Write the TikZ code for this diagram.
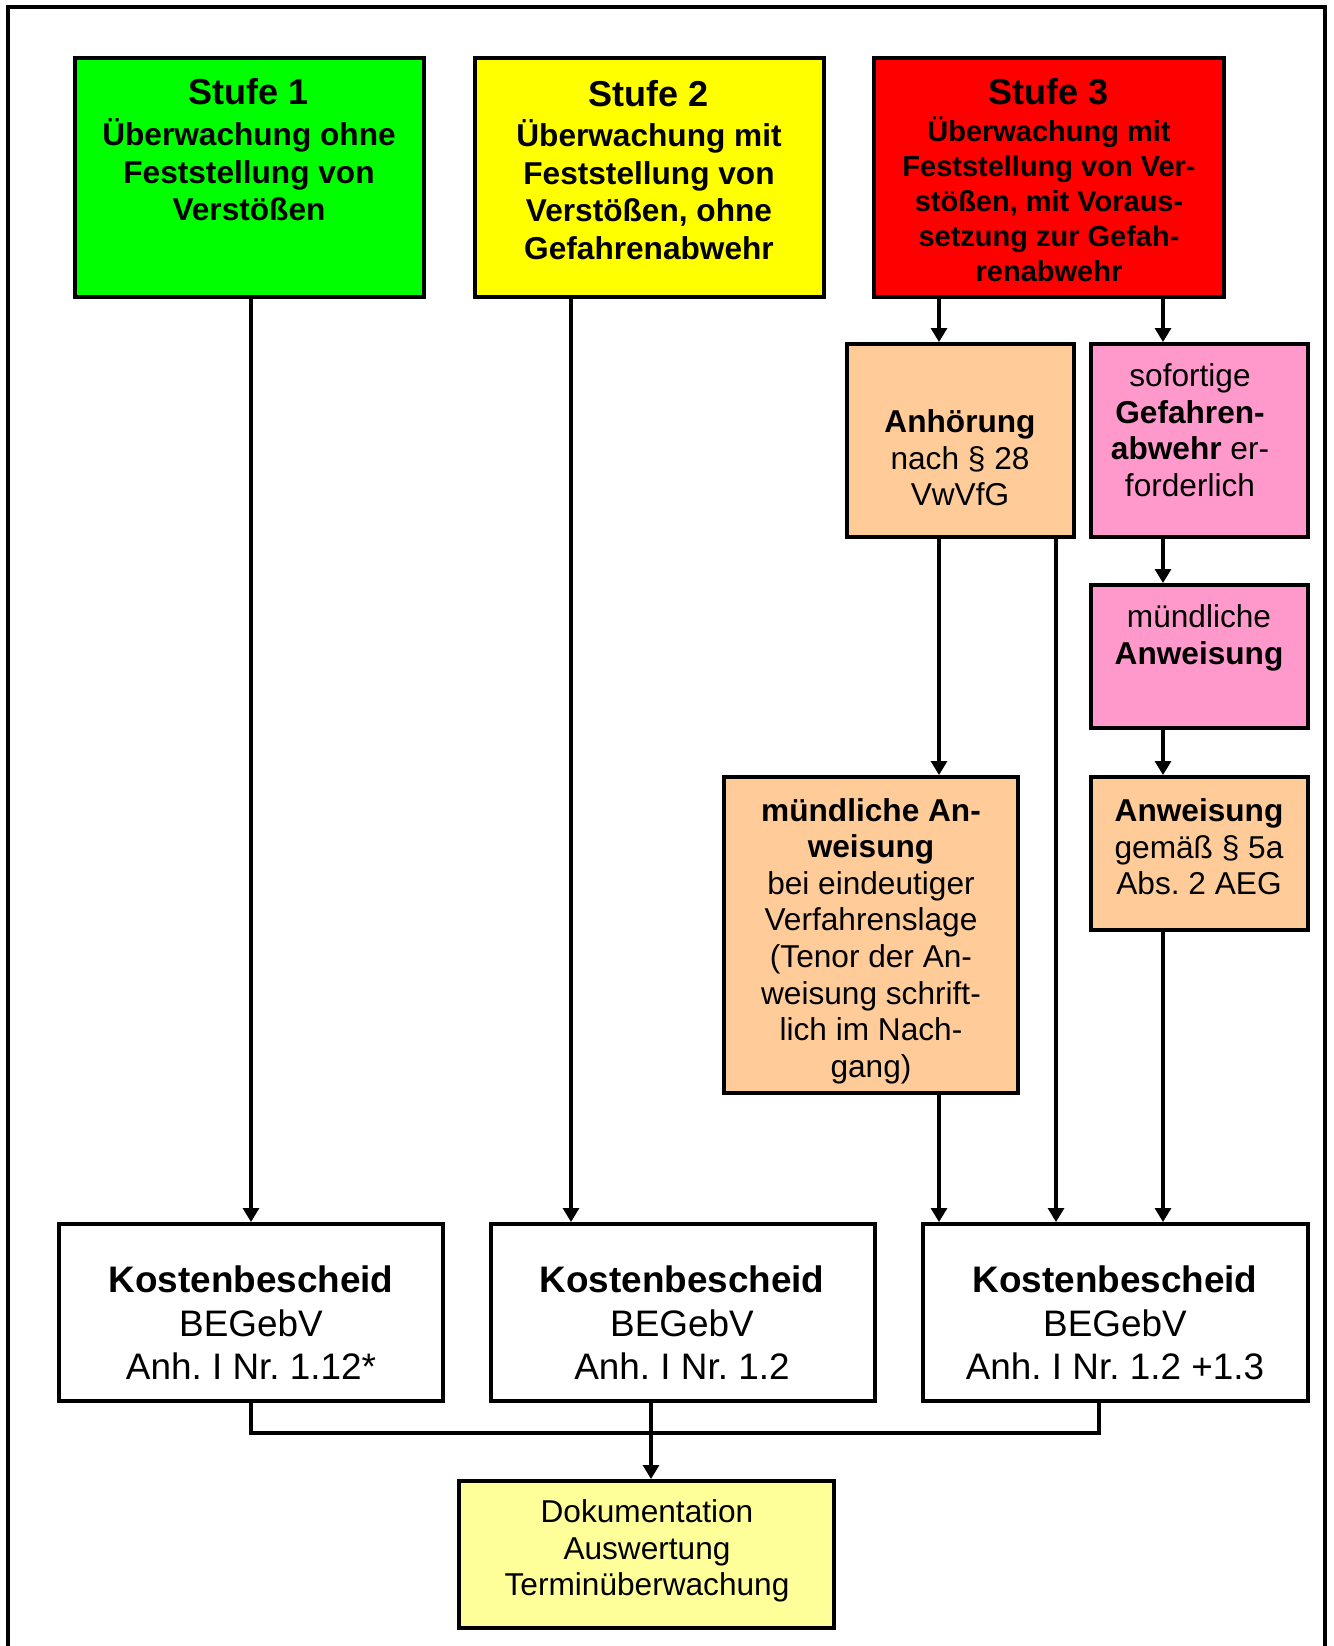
\documentclass[tikz,border=0pt]{standalone}
\usepackage{fontspec}
\setmainfont{Liberation Sans}
\usetikzlibrary{arrows.meta, positioning}
\frenchspacing
\definecolor{stufegreen}{HTML}{00FF00}
\definecolor{stufeyellow}{HTML}{FFFF00}
\definecolor{stufered}{HTML}{FF0000}
\definecolor{peach}{HTML}{FFCC99}
\definecolor{pinkish}{HTML}{FF99CC}
\definecolor{paleyellow}{HTML}{FFFF99}
\tikzset{
    cell/.style={
        rectangle, draw=black, line width=2.2pt, inner sep=0pt
    },
    stufebox/.style={cell, minimum width=6.98cm, minimum height=4.78cm},
    smallbox/.style={cell, minimum width=4.34cm},
    costbox/.style={cell, fill=white, minimum width=7.68cm, minimum height=3.54cm},
    txt/.style={align=center, inner sep=0pt, font=\fontsize{18}{20.8}\selectfont},
    stufetxt/.style={align=center, inner sep=0pt, font=\bfseries\fontsize{18}{21.5}\selectfont},
    costtxt/.style={align=center, inner sep=0pt, font=\fontsize{21}{24.7}\selectfont},
    wire/.style={draw=black, line width=2.2pt, -{Triangle[length=8pt, width=9pt]}},
    link/.style={draw=black, line width=1.8pt}
}
\newcommand{\stufetitle}[1]{{\fontsize{20.5}{24}\selectfont #1}}

\begin{document}
\begin{tikzpicture}[x=0.02cm, y=-0.02cm]
\useasboundingbox (0,0) rectangle (1333,1646);

% Frame (open at the bottom)
\draw[line width=2.3pt] (8,1646) -- (8,7) -- (1325,7) -- (1325,1646);

% Stufen
\node[stufebox, fill=stufegreen] (s1) at (249.5,177.5) {};
\node[stufebox, fill=stufeyellow] (s2) at (649.5,177.5) {};
\node[stufebox, fill=stufered, minimum width=7cm] (s3) at (1049,177.5) {};

\node[stufetxt] (s1t) at (249,150) {\stufetitle{Stufe 1}\\[1.5pt] Überwachung ohne\\ Feststellung von\\ Verstößen};
\node[stufetxt] (s2t) at (649,170) {\stufetitle{Stufe 2}\\[1.5pt] Überwachung mit\\ Feststellung von\\ Verstößen, ohne\\ Gefahrenabwehr};
\node[stufetxt, font=\bfseries\fontsize{16.5}{20}\selectfont] (s3t) at (1049,180)
    {\stufetitle{Stufe 3}\\[1pt] Überwachung mit\\ Feststellung von Ver-\\ stößen, mit Voraus-\\ setzung zur Gefah-\\ renabwehr};

% Stufe 3 branches
\node[cell, fill=peach, minimum width=4.54cm, minimum height=3.86cm] (anh) at (960.5,440.5) {};
\node[txt] (anht) at (960,458) {\textbf{Anhörung}\\ nach § 28\\ VwVfG};

\node[smallbox, fill=pinkish, minimum height=3.86cm] (sof) at (1199.5,440.5) {};
\node[txt] (soft) at (1190,430) {sofortige\\ \textbf{Gefahren-}\\ \textbf{abwehr} er-\\ forderlich};

\node[smallbox, fill=pinkish, minimum height=2.86cm] (pnk) at (1199.5,656.5) {};
\node[txt] (pnkt) at (1199,638) {mündliche\\ \textbf{Anweisung}};

\node[smallbox, fill=peach, minimum height=3.06cm] (anw) at (1199.5,853.5) {};
\node[txt] (anwt) at (1199,847) {\textbf{Anweisung}\\ gemäß § 5a\\ Abs. 2 AEG};

\node[cell, fill=peach, minimum width=5.88cm, minimum height=6.32cm] (mue) at (871,935) {};
\node[txt] (muet) at (871,941) {\textbf{mündliche An-}\\ \textbf{weisung}\\ bei eindeutiger\\ Verfahrenslage\\ (Tenor der An-\\ weisung schrift-\\ lich im Nach-\\ gang)};

% Kostenbescheide
\node[costbox] (k1) at (251,1312.5) {};
\node[costbox] (k2) at (683,1312.5) {};
\node[costbox, minimum width=7.7cm] (k3) at (1115.5,1312.5) {};
\node[costtxt] (k1t) at (251,1323) {\textbf{Kostenbescheid}\\ BEGebV\\ Anh. I Nr. 1.12*};
\node[costtxt] (k2t) at (682,1323) {\textbf{Kostenbescheid}\\ BEGebV\\ Anh. I Nr. 1.2};
\node[costtxt] (k3t) at (1115,1323) {\textbf{Kostenbescheid}\\ BEGebV\\ Anh. I Nr. 1.2 +1.3};

% Dokumentation
\node[cell, fill=paleyellow, minimum width=7.5cm, minimum height=2.94cm] (doku) at (646.5,1554.5) {};
\node[txt] (dokut) at (647,1551) {Dokumentation\\ Auswertung\\ Terminüberwachung};

% Columns of the connectors
\coordinate (c1) at (251,0);
\coordinate (c2) at (571,0);
\coordinate (ca) at (939,0);
\coordinate (cb) at (1056,0);
\coordinate (cc) at (1163,0);
\coordinate (cd) at (651,0);
\coordinate (busl) at (251,1433);
\coordinate (busr) at (1099,1433);

\draw[wire] (s1.south -| c1) -- (k1.north -| c1);
\draw[wire] (s2.south -| c2) -- (k2.north -| c2);
\draw[wire] (s3.south -| ca) -- (anh.north -| ca);
\draw[wire] (s3.south -| cc) -- (sof.north -| cc);
\draw[wire] (anh.south -| ca) -- (mue.north -| ca);
\draw[wire] (mue.south -| ca) -- (k3.north -| ca);
\draw[wire] (anh.south -| cb) -- (k3.north -| cb);
\draw[wire] (sof.south -| cc) -- (pnk.north -| cc);
\draw[wire] (pnk.south -| cc) -- (anw.north -| cc);
\draw[wire] (anw.south -| cc) -- (k3.north -| cc);

% Merge to Dokumentation
\draw[link] (k1.south -| busl) -- (busl) -- (busr) -- (k3.south -| busr);
\draw[wire] (k2.south -| cd) -- (doku.north -| cd);

\end{tikzpicture}
\end{document}
